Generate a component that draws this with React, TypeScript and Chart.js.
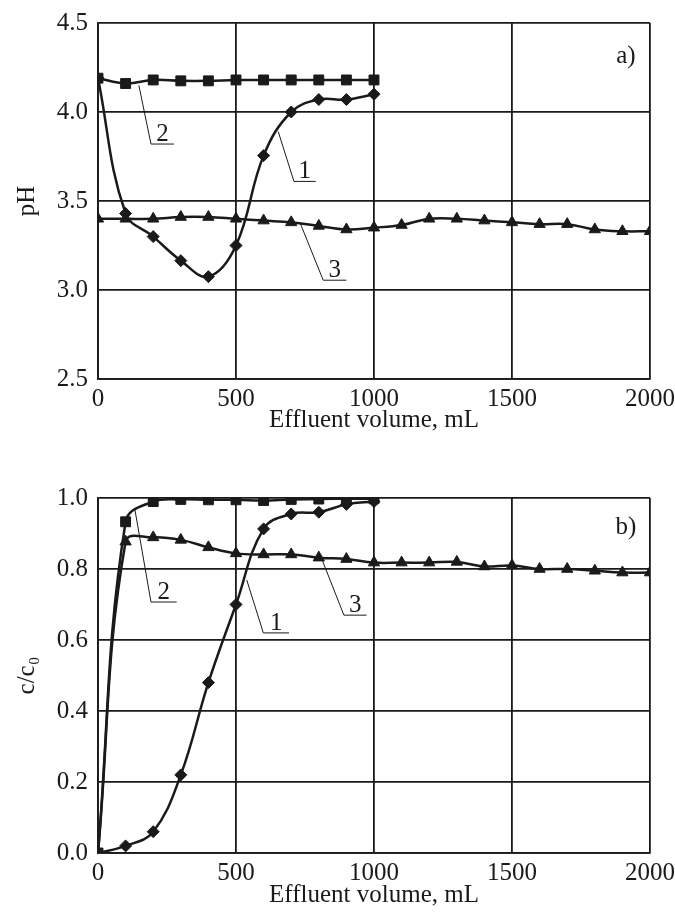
import React, { useEffect, useRef } from 'react';
import { Chart, registerables } from 'chart.js';

Chart.register(...registerables);

// ---------- data ----------
const volumesLong = [0, 100, 200, 300, 400, 500, 600, 700, 800, 900, 1000, 1100, 1200, 1300, 1400, 1500, 1600, 1700, 1800, 1900, 2000];
const volumesShort = [0, 100, 200, 300, 400, 500, 600, 700, 800, 900, 1000];

const phCurve1 = [4.19, 3.43, 3.30, 3.165, 3.075, 3.25, 3.755, 4.0, 4.07, 4.07, 4.10];
const phCurve2 = [4.19, 4.16, 4.18, 4.175, 4.175, 4.18, 4.18, 4.18, 4.18, 4.18, 4.18];
const phCurve3 = [3.40, 3.40, 3.40, 3.41, 3.41, 3.40, 3.39, 3.38, 3.36, 3.34, 3.35, 3.365, 3.40, 3.40, 3.39, 3.38, 3.37, 3.37, 3.34, 3.33, 3.33];

const ccCurve1 = [0.0, 0.02, 0.06, 0.22, 0.48, 0.70, 0.913, 0.955, 0.96, 0.982, 0.99];
const ccCurve2 = [0.0, 0.933, 0.99, 0.996, 0.995, 0.995, 0.993, 0.996, 0.997, 0.998, 0.998];
const ccCurve3 = [0.0, 0.877, 0.889, 0.882, 0.861, 0.844, 0.841, 0.841, 0.832, 0.828, 0.818, 0.818, 0.818, 0.82, 0.807, 0.81, 0.80, 0.80, 0.795, 0.79, 0.79];

const xTitle = 'Effluent volume, mL';
const phTitle = 'pH';
const ccTitle = 'c/c₀';

// callouts: label, leader-line points (data coordinates)
const phCallouts = [
  { label: '2', pts: [[148, 4.15], [192, 3.82], [275, 3.82]] },
  { label: '1', pts: [[653, 3.89], [710, 3.61], [789, 3.61]] },
  { label: '3', pts: [[734, 3.37], [816, 3.055], [900, 3.055]] },
];
const ccCallouts = [
  { label: '2', pts: [[134, 0.966], [192, 0.707], [285, 0.707]] },
  { label: '1', pts: [[539, 0.769], [599, 0.62], [692, 0.62]] },
  { label: '3', pts: [[810, 0.83], [891, 0.67], [973, 0.67]] },
];
const phTag = { text: 'a)', at: [1913, 4.31] };
const ccTag = { text: 'b)', at: [1913, 0.918] };

// ---------- styling ----------
const FONT = '"Liberation Serif", "Times New Roman", serif';
const INK = '#1a1a1a';
const FONT_SIZE = 25;

const calloutPlugin = {
  id: 'callouts',
  afterDatasetsDraw(chart: any, _args: any, opts: any) {
    const { ctx } = chart;
    const xs = chart.scales.x;
    const ys = chart.scales.y;
    ctx.save();
    ctx.strokeStyle = INK;
    ctx.fillStyle = INK;
    ctx.lineWidth = 1;
    ctx.font = `${FONT_SIZE}px ${FONT}`;
    for (const c of opts.items || []) {
      const p = c.pts.map((v: number[]) => [xs.getPixelForValue(v[0]), ys.getPixelForValue(v[1])]);
      ctx.beginPath();
      ctx.moveTo(p[0][0], p[0][1]);
      for (let i = 1; i < p.length; i++) ctx.lineTo(p[i][0], p[i][1]);
      ctx.stroke();
      ctx.textAlign = 'center';
      ctx.textBaseline = 'alphabetic';
      ctx.fillText(c.label, (p[1][0] + p[2][0]) / 2, p[1][1] - 3);
    }
    if (opts.tag) {
      ctx.textAlign = 'center';
      ctx.textBaseline = 'middle';
      ctx.fillText(opts.tag.text, xs.getPixelForValue(opts.tag.at[0]), ys.getPixelForValue(opts.tag.at[1]));
    }
    ctx.restore();
  },
};

function ds(xv: number[], yv: number[], style: string, radius: number) {
  return {
    data: xv.map((x, i) => ({ x, y: yv[i] })),
    borderColor: INK,
    backgroundColor: INK,
    borderWidth: 2.5,
    pointStyle: style,
    pointRadius: radius,
    pointBackgroundColor: INK,
    pointBorderColor: INK,
    pointBorderWidth: 1,
    tension: 0.4,
    fill: false,
  };
}

function makeConfig(opts: {
  datasets: any[];
  yMin: number;
  yMax: number;
  yStep: number;
  yTitle: string;
  plotTop: number;
  xAxisHeight: number;
  xTitleBottom: number;
  callouts: any[];
  tag: any;
}) {
  const gridStyle = { color: INK, lineWidth: 1.8, drawTicks: false };
  return {
    type: 'line',
    data: { datasets: opts.datasets },
    options: {
      animation: false,
      responsive: false,
      devicePixelRatio: 1,
      layout: { padding: { top: opts.plotTop, right: 25, left: 0, bottom: 0 } },
      plugins: {
        legend: { display: false },
        tooltip: { enabled: false },
        callouts: { items: opts.callouts, tag: opts.tag },
      },
      scales: {
        x: {
          type: 'linear',
          min: 0,
          max: 2000,
          grid: gridStyle,
          border: { display: true, color: INK, width: 1.8 },
          ticks: {
            stepSize: 500,
            padding: 5,
            color: INK,
            font: { family: FONT, size: FONT_SIZE },
            maxRotation: 0,
            callback: (v: any) => String(Math.round(Number(v))),
          },
          title: {
            display: true,
            text: xTitle,
            color: INK,
            font: { family: FONT, size: FONT_SIZE },
            padding: { top: 0, bottom: opts.xTitleBottom },
          },
          afterFit: (s: any) => {
            s.height = opts.xAxisHeight;
            s.paddingRight = 0;
            s.paddingLeft = 0;
          },
        },
        y: {
          type: 'linear',
          min: opts.yMin,
          max: opts.yMax,
          grid: gridStyle,
          border: { display: true, color: INK, width: 1.8 },
          ticks: {
            stepSize: opts.yStep,
            padding: 10,
            color: INK,
            font: { family: FONT, size: FONT_SIZE },
            callback: (v: any) => Number(v).toFixed(1),
          },
          title: {
            display: true,
            text: opts.yTitle,
            color: INK,
            font: { family: FONT, size: FONT_SIZE },
            padding: { top: 12, bottom: 0 },
          },
          afterFit: (s: any) => {
            s.width = 98;
            s.paddingTop = 0;
            s.paddingBottom = 0;
          },
        },
      },
    },
    plugins: [calloutPlugin],
  };
}

function ChartCanvas(props: { config: any; width: number; height: number; top: number }) {
  const ref = useRef<HTMLCanvasElement | null>(null);
  useEffect(() => {
    if (!ref.current) return;
    const chart = new Chart(ref.current, props.config);
    return () => chart.destroy();
  }, []);
  return (
    <div style={{ position: 'absolute', left: 0, top: props.top, width: props.width, height: props.height }}>
      <canvas ref={ref} width={props.width} height={props.height} style={{ display: 'block' }} />
    </div>
  );
}

export default function App() {
  const phConfig = makeConfig({
    datasets: [
      ds(volumesLong, phCurve3, 'triangle', 6.5),
      ds(volumesShort, phCurve2, 'rect', 7),
      ds(volumesShort, phCurve1, 'rectRot', 6),
    ],
    yMin: 2.5,
    yMax: 4.5,
    yStep: 0.5,
    yTitle: phTitle,
    plotTop: 23,
    xAxisHeight: 440 - 379,
    xTitleBottom: 5,
    callouts: phCallouts,
    tag: phTag,
  });
  const ccConfig = makeConfig({
    datasets: [
      ds(volumesLong, ccCurve3, 'triangle', 6.5),
      ds(volumesShort, ccCurve2, 'rect', 7),
      ds(volumesShort, ccCurve1, 'rectRot', 6),
    ],
    yMin: 0,
    yMax: 1,
    yStep: 0.2,
    yTitle: ccTitle,
    plotTop: 498 - 440,
    xAxisHeight: 922 - 853,
    xTitleBottom: 12,
    callouts: ccCallouts,
    tag: ccTag,
  });
  return (
    <div style={{ position: 'absolute', left: 0, top: 0, width: 675, height: 922, background: '#fff' }}>
      <ChartCanvas config={phConfig} width={675} height={440} top={0} />
      <ChartCanvas config={ccConfig} width={675} height={482} top={440} />
    </div>
  );
}
